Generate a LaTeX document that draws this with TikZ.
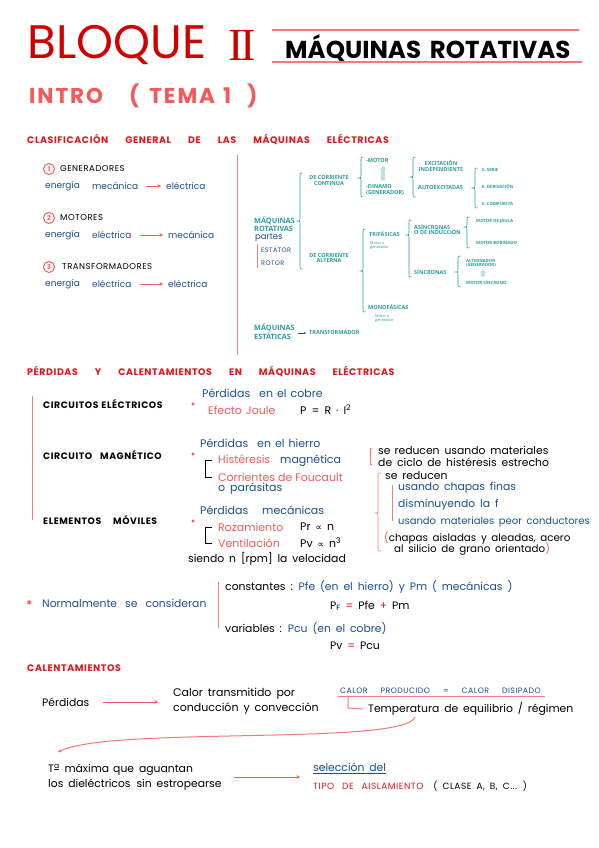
\documentclass[tikz,border=0pt]{standalone}
\usepackage{fontspec}
\setmainfont{Poppins}[WordSpace=1.7]
\newfontfamily\capf{Poppins}[LetterSpace=6,WordSpace=1.7]
\newfontfamily\treefont{Open Sans}
\newfontfamily\djv{DejaVu Sans}
\newfontfamily\romf{Liberation Serif}
\usetikzlibrary{arrows.meta}
\definecolor{titred}{HTML}{D00000}
\definecolor{hred}{HTML}{E3161B}
\definecolor{salm}{HTML}{F45A5A}
\definecolor{pblue}{HTML}{1E4F8F}
\definecolor{tealc}{HTML}{2B9C9C}
\definecolor{lred}{HTML}{F27C7C}
\newcommand\fs[1]{\fontsize{#1}{#1}\selectfont}
% asymmetric brace: colour, x, top, tip, bottom
\newcommand\tbr[5][tealc]{%
  \draw[#1, line width=0.6pt] (#2+2.5,#3) .. controls (#2,#3) .. (#2,#3+2.5) -- (#2,#4-2.5)
    .. controls (#2,#4) .. (#2-2.5,#4) .. controls (#2,#4) .. (#2,#4+2.5) -- (#2,#5-2.5)
    .. controls (#2,#5) .. (#2+2.5,#5);}
\begin{document}
\begin{tikzpicture}[x=1pt,y=-1pt,
  tx/.style={inner sep=0pt, anchor=west},
  head/.style={tx, text=hred, font=\capf\bfseries\fs{9.5}},
  capk/.style={tx, text=black, font=\capf\fs{8.5}},
  capb/.style={tx, text=black, font=\capf\bfseries\fs{9.3}},
  bl/.style={tx, text=pblue, font=\fs{9}},
  blk2/.style={tx, text=black, font=\fs{11}},
  bl2/.style={tx, text=pblue, font=\fs{11}},
  sal2/.style={tx, text=salm, font=\fs{11}},
  blk3/.style={tx, text=black, font=\fs{10.8}},
  bl3/.style={tx, text=pblue, font=\fs{10.8}},
  tr/.style={tx, text=tealc, font=\treefont\bfseries\fs{5.5}, align=left},
  trs/.style={tx, text=tealc, font=\treefont\bfseries\fs{4.3}, align=left},
  trb/.style={tx, text=tealc, font=\treefont\bfseries\fs{7.3}, align=left},
  num/.style={circle, draw=salm, text=salm, line width=1pt, inner sep=0pt, minimum size=11pt, font=\bfseries\fs{6.5}},
  rdot/.style={circle, fill=salm, inner sep=0pt, minimum size=3.4pt},
  rarr/.style={salm, line width=0.8pt, -{Stealth[length=3.5pt,width=3.5pt]}},
  kline/.style={black, line width=0.9pt},
  rline/.style={lred, line width=1pt},
  ud/.style={draw=tealc!30, line width=3.2pt, {Triangle[width=6pt,length=3pt]}-{Triangle[width=6pt,length=3pt]}}
]
\useasboundingbox[fill=white] (0,0) rectangle (599,848);

% ---------- title ----------
\node[tx, text=titred, font=\fs{47}] (bloque) at (27,45) {BLOQUE};
\node[tx, text=titred, font=\romf\fs{46}] (roman) at (228,45) {I\kern-3.2ptI};
\node[tx, text=black, font=\bfseries\fs{24.5}] (maqrot) at (285,48) {MÁQUINAS ROTATIVAS};
\draw[rline, line width=1.2pt] (272,30) -- (579,30);
\draw[rline, line width=1.2pt] (272,62) -- (582,62);
\node[tx, text=salm, font=\capf\bfseries\fs{21.5}\addfontfeature{LetterSpace=9}] (intro) at (29,96) {INTRO\hspace{26pt}(\hspace{10pt}TEMA\hspace{8pt}1\hspace{16pt})};

% ---------- clasificacion ----------
\node[head] (cls) at (27,139) {CLASIFICACIÓN\hspace{17pt}GENERAL\hspace{17pt}DE\hspace{17pt}LAS\hspace{17pt}MÁQUINAS\hspace{17pt}ELÉCTRICAS};
\draw[rline] (237,155) -- (237,355);

\node[num] (n1) at (49,169) {1};
\node[capk] (gen) at (60,169) {GENERADORES};
\node[bl] (e1a) at (45,186) {energía};
\node[bl] (e1b) at (92,186) {mecánica};
\node[bl] (e1c) at (166,186) {eléctrica};
\draw[rarr] ([xshift=8pt]e1b.east) -- ([xshift=-5pt]e1c.west);

\node[num] (n2) at (49,218) {2};
\node[capk] (mot) at (60,218) {MOTORES};
\node[bl] (e2a) at (45,235) {energía};
\node[bl] (e2b) at (92,235) {eléctrica};
\node[bl] (e2c) at (168,235) {mecánica};
\draw[rarr] ([xshift=8pt]e2b.east) -- ([xshift=-5pt]e2c.west);

\node[num] (n3) at (49,267) {3};
\node[capk] (trans) at (62,267) {TRANSFORMADORES};
\node[bl] (e3a) at (45,284) {energía};
\node[bl] (e3b) at (92,284) {eléctrica};
\node[bl] (e3c) at (168,284) {eléctrica};
\draw[rarr] ([xshift=8pt]e3b.east) -- ([xshift=-5pt]e3c.west);

% ---------- tree ----------
\node[trb] (mrot) at (254,224) {MÁQUINAS\\ROTATIVAS};
\node[tx, text=pblue, font=\fs{8.5}] (partes) at (255,238) {partes};
\draw[rline] (257,244) -- (257,268);
\node[tx, text=pblue, font=\capf\fs{6.5}] (estator) at (261,250) {ESTATOR};
\node[tx, text=pblue, font=\capf\fs{6.5}] (rotor) at (261,263) {ROTOR};
\tbr{300}{173}{221}{269}

\node[tr, align=center, anchor=center] (dcc) at (329,180.5) {DE CORRIENTE\\CONTINUA};
\node[tr, align=center, anchor=center] (dca) at (329,258) {DE CORRIENTE\\ALTERNA};

\tbr{361}{157}{178}{197}
\node[tr] (motor) at (366,161) {-MOTOR};
\node[tr] (dinamo) at (366,190) {-DINAMO\\(GENERADOR)};
\coordinate (udA1) at (383,166);
\coordinate (udA2) at (383,181);
\draw[ud] (udA1) -- (udA2);

\tbr{413}{157}{177}{197}
\node[tr, align=center, anchor=center] (exc) at (441,166) {EXCITACIÓN\\INDEPENDIENTE};
\node[tr] (auto) at (418,188) {AUTOEXCITADAS};
\tbr{475}{168}{188}{208}
\node[trs] (es) at (482,170) {E. SERIE};
\node[trs] (ed) at (482,187) {E. DERIVACIÓN};
\node[trs] (ec) at (482,204) {E. COMPUESTA};

\tbr{363}{229}{271}{312}
\node[tr] (tri) at (369,234) {TRIFÁSICAS};
\node[trs, font=\treefont\fs{3.8}] (tri2) at (370,245.5) {Motor o\\generador};
\tbr{409}{220}{235}{277}
\node[tr] (asin) at (414,229.5) {ASÍNCRONAS\\O DE INDUCCIÓN};
\tbr{467}{217}{227}{248}
\node[trs] (mj) at (476,221) {MOTOR DE JAULA};
\node[trs] (mb) at (476,243) {MOTOR BOBINADO};
\node[tr] (sin) at (414,272) {SÍNCRONAS};
\tbr{458}{256}{272}{287}
\node[trs] (alt) at (466,263.5) {ALTERNADOR\\(GENERADOR)};
\coordinate (udB1) at (483,269.5);
\coordinate (udB2) at (483,277.5);
\draw[ud] (udB1) -- (udB2);
\node[trs] (ms) at (466,283) {MOTOR SÍNCRONO};
\node[tr] (mono) at (368,307) {MONOFÁSICAS};
\node[trs, font=\treefont\fs{3.8}] (mono2) at (375,318.5) {Motor o\\generador};

\node[trb] (mest) at (254,332) {MÁQUINAS\\ESTÁTICAS};
\node[tr] (trf) at (309,333) {TRANSFORMADOR};
\draw[black!70, line width=0.5pt, -{Stealth[length=2pt,width=2pt]}] ([xshift=3pt]mest.east|-trf.west) -- ([xshift=-3pt]trf.west);

% ---------- perdidas ----------
\node[head] (perd) at (27,371) {PÉRDIDAS\hspace{17pt}Y\hspace{17pt}CALENTAMIENTOS\hspace{17pt}EN\hspace{17pt}MÁQUINAS\hspace{17pt}ELÉCTRICAS};
\draw[rline] (32,396) -- (32,520);

\node[capb] (ce) at (43,404) {CIRCUITOS\hspace{3pt}ELÉCTRICOS};
\node[rdot] (d1) at (193,404) {};
\node[bl2] (pc) at (202,393) {Pérdidas\hspace{9pt}en\hspace{4pt}el\hspace{4pt}cobre};
\node[sal2] (ej) at (208,410) {Efecto\hspace{4pt}Joule};
\node[blk2] (pri) at (300,410) {P = R · I\textsuperscript{2}};

\node[capb] (cm) at (43,455) {CIRCUITO\hspace{8pt}MAGNÉTICO};
\node[rdot] (d2) at (193,454) {};
\node[bl2] (ph) at (200,443) {Pérdidas\hspace{9pt}en\hspace{4pt}el\hspace{4pt}hierro};
\draw[kline] (212,460) -- (205,460) -- (205,477) -- (212,477);
\node[tx, font=\fs{11}] (hm) at (218,461) {\textcolor{salm}{Histéresis}\hspace{10pt}\textcolor{pblue}{magnética}};
\node[sal2] (cf) at (218,477) {Corrientes\hspace{3pt}de\hspace{3pt}Foucault};
\node[bl2] (op) at (218,489) {o parásitas};

\draw[rline] (372,448) -- (370,448) -- (370,464) -- (372,464);
\node[blk3] (sr1) at (378,450) {se\hspace{4pt}reducen usando materiales};
\node[blk3] (sr2) at (378,462) {de ciclo de histéresis estrecho};
\tbr[lred]{378}{473}{513}{551}
\node[blk3] (sr3) at (385,476) {se reducen};
\draw[rline] (392,485) -- (392,521);
\node[bl3] (u1) at (398,488) {usando chapas finas};
\node[bl3] (u2) at (398,505) {disminuyendo la f};
\node[bl3, font=\fs{10}] (u3) at (398,522) {usando materiales peor conductores};
\node[blk3, font=\fs{10.3}] (ch1) at (384,538) {\textcolor{salm}{(}chapas aisladas y aleadas, acero};
\node[blk3, font=\fs{10.3}] (ch2) at (394,549) {al silicio de grano orientado\textcolor{salm}{)}};

\node[capb] (em) at (43,520) {ELEMENTOS\hspace{12pt}MÓVILES};
\node[rdot] (d3) at (193,521) {};
\node[bl2] (pm) at (200,510) {Pérdidas\hspace{14pt}mecánicas};
\draw[kline] (212,527) -- (205,527) -- (205,543) -- (212,543);
\node[sal2] (roz) at (218,527) {Rozamiento};
\node[blk2] (prn) at (300,527) {Pr {\djv\fs{9}∝} n};
\node[sal2] (ven) at (218,543) {Ventilación};
\node[blk2] (pvn) at (300,543) {Pv {\djv\fs{9}∝} n\textsuperscript{3}};
\node[blk3] (sie) at (188,559) {siendo n [rpm] la velocidad};

% ---------- normalmente ----------
\node[tx, text=salm, font=\bfseries\fs{12}] (ast) at (26,605) {*};
\node[bl3] (norm) at (42,603) {Normalmente\hspace{8pt}se\hspace{8pt}consideran};
\draw[rline] (218,582) -- (218,628);
\node[blk3] (const) at (225,587) {constantes : \textcolor{pblue}{Pfe (en el hierro) y Pm ( mecánicas )}};
\node[blk3] (pf) at (330,606) {P\textsubscript{F} \textcolor{hred}{=} Pfe \textcolor{hred}{+} Pm};
\node[blk3] (var) at (225,628) {variables : \textcolor{pblue}{Pcu (en el cobre)}};
\node[blk3] (pv) at (330,646) {Pv \textcolor{hred}{=} Pcu};

% ---------- calentamientos ----------
\node[head] (cal) at (27,668) {CALENTAMIENTOS};
\node[blk3] (perd2) at (42,702) {Pérdidas};
\node[blk3, align=left, font=\fs{11}] (ctr) at (173,701) {Calor transmitido por\\[3pt]conducción y convección};
\draw[rarr] ([xshift=13pt]perd2.east) -- ([xshift=-15pt]ctr.west|-perd2.east);
\node[tx, text=pblue, font=\capf\fs{7.8}] (cpd) at (340,691) {CALOR\hspace{13pt}PRODUCIDO\hspace{13pt}=\hspace{13pt}CALOR\hspace{13pt}DISIPADO};
\draw[rline] ([xshift=-2pt,yshift=-2.5pt]cpd.south west) -- ([xshift=4pt,yshift=-2.5pt]cpd.south east);
\node[blk3] (teq) at (368,709) {Temperatura de equilibrio / régimen};
\draw[rline] (348,697) -- (348,708) -- ([xshift=-5pt]teq.west);
\coordinate (cs) at (415,717);
\coordinate (cend) at (58,752);
\draw[rarr, lred, line width=1pt] (cs) .. controls (405,746) and (110,726) .. (cend);
\node[blk3, align=left] (tma) at (48,777) {T\textsuperscript{\underline{a}} máxima\hspace{4pt}que aguantan\\[3pt]los dieléctricos\hspace{6pt}sin estropearse};
\node[bl3] (sel) at (313,767) {selección del};
\draw[rarr] ([xshift=12pt]tma.east) -- ([xshift=-13pt]tma.east-|sel.west);
\draw[pblue, line width=0.6pt] ([yshift=-2pt]sel.south west) -- ([yshift=-2pt]sel.south east);
\node[tx, font=\capf\fs{9}] (tipo) at (313,786) {\textcolor{hred}{TIPO\hspace{8pt}DE\hspace{8pt}AISLAMIENTO}\hspace{10pt}\textcolor{black}{( CLASE A, B, C... )}};
\end{tikzpicture}
\end{document}
